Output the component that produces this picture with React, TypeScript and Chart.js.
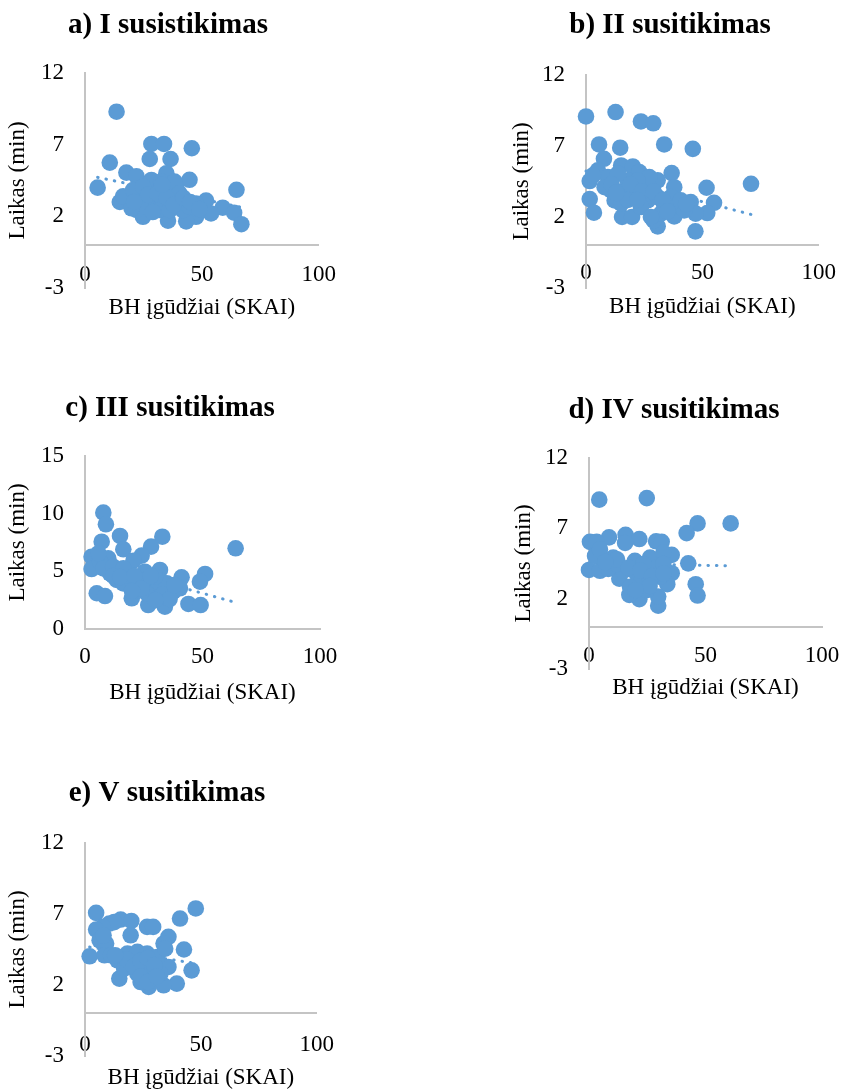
import React, { useEffect, useRef } from 'react';
import { Chart, registerables } from 'chart.js';

Chart.register(...registerables);

const SERIF = "'Liberation Serif', 'Times New Roman', serif";
const BLUE = '#5B9BD5';
const AXIS = '#C4C4C4';

// ---- Data ----
const xAxisTitle = 'BH įgūdžiai (SKAI)';
const yAxisTitle = 'Laikas (min)';
const xTicks = [0, 50, 100];
const yTicksA = [-3, 2, 7, 12];
const yTicksC = [0, 5, 10, 15];

const titles = ['a) I susistikimas', 'b) II susitikimas', 'c) III susitikimas', 'd) IV susitikimas', 'e) V susitikimas'];

const aX = [13.5, 28.4, 33.8, 45.7, 27.7, 36.6, 10.6, 5.4, 17.7, 22, 34.8, 44.7, 64.8, 14.9, 16.3, 51.8, 58.9, 63.8, 66.9, 53.9, 47.5, 43.3, 35.5, 24.8, 22, 26.2, 30.5, 34.8, 39.0, 23.4, 29.1, 33.3, 37.6, 40.4, 41.8, 26.2, 31.9, 36.2, 20.6, 28.4, 32.6, 38.3, 40.4, 44.7, 24.8, 19.9, 47.5, 27, 31, 35, 38, 42, 45, 49, 21, 33, 29];
const aY = [9.3, 7.05, 7.05, 6.75, 6.0, 6.0, 5.75, 4.0, 5.05, 4.8, 5.0, 4.55, 3.85, 3.0, 3.4, 3.1, 2.6, 2.25, 1.45, 2.2, 1.97, 1.65, 1.7, 1.97, 2.45, 3.84, 4.07, 3.84, 4.07, 3.37, 3.14, 3.14, 3.37, 2.91, 2.44, 2.67, 2.44, 2.44, 3.84, 4.54, 4.42, 4.42, 3.6, 2.67, 4.07, 2.56, 2.9, 3.5, 3.6, 3.3, 2.8, 3.3, 3.0, 2.5, 3.0, 4.2, 2.3];
const aTrendX = [5.4, 66.9];
const aTrendY = [4.72, 2.63];

const bX = [0, 12.7, 23.6, 28.9, 5.6, 14.7, 33.6, 45.9, 7.7, 36.8, 70.9, 51.8, 55, 1.6, 1.6, 3.4, 47, 30.8, 29.1, 15.5, 19.8, 37.9, 45, 52.1, 47.1, 15.1, 20.1, 22.9, 5.1, 30.8, 37.9, 9.4, 10.8, 12.3, 16.5, 17.9, 20.8, 25.1, 26.5, 23.6, 30.8, 33.6, 36.5, 39.3, 42.2, 32.2, 8, 13.7, 27.2, 22.2, 15.1, 27.9, 40.7, 3, 11, 19, 24, 29, 33, 35, 18, 13, 22, 43];
const bY = [9.08, 9.39, 8.73, 8.6, 7.11, 6.88, 7.11, 6.8, 6.1, 5.09, 4.34, 4.06, 3.0, 4.53, 3.26, 2.3, 0.99, 1.34, 1.76, 2.0, 2.0, 2.04, 3.05, 2.28, 2.24, 5.63, 5.56, 5.16, 5.28, 4.58, 4.1, 4.81, 3.87, 3.17, 3.87, 4.58, 3.64, 4.1, 3.17, 2.7, 3.4, 2.82, 3.4, 2.82, 2.46, 2.23, 4.1, 5.05, 4.81, 4.58, 2.94, 2.0, 3.17, 4.93, 4.3, 4.3, 3.8, 3.8, 3.2, 2.4, 3.2, 3.7, 3.2, 2.9];
const bTrendX = [0, 70.9];
const bTrendY = [5.23, 2.18];

const cX = [7.8, 8.9, 32.9, 14.9, 7.1, 16.3, 28.1, 64.1, 24.1, 20.6, 2.8, 2.8, 9.9, 10.6, 31.9, 41.1, 51.1, 48.9, 5.0, 8.5, 19.9, 26.9, 34, 44, 49.2, 37.6, 17.7, 25.5, 13.5, 19.1, 23.4, 27.7, 30.5, 34.8, 26.2, 22, 16.3, 6.4, 7.8, 12, 29.8, 40.4, 31.9, 16.3, 5.7, 12, 15, 21, 24, 28, 33, 36, 38, 20, 30];
const cY = [10.09, 9.08, 8.0, 8.07, 7.57, 6.91, 7.14, 7.0, 6.36, 5.92, 6.27, 5.2, 6.13, 4.83, 5.12, 4.48, 4.77, 4.1, 3.1, 2.86, 2.66, 2.08, 1.93, 2.17, 2.08, 3.24, 4.83, 4.97, 4.25, 3.82, 4.25, 3.82, 3.38, 3.96, 3.1, 3.38, 3.96, 5.84, 5.26, 5.4, 4.54, 3.53, 2.8, 5.26, 6.56, 4.6, 4.5, 4.6, 3.5, 4.6, 3.0, 2.6, 3.8, 3.3, 2.5];
const cTrendX = [2.8, 64.1];
const cTrendY = [5.78, 2.3];

const dX = [4.4, 24.8, 46.6, 60.8, 41.9, 8.6, 15.7, 21.6, 28.8, 31.2, 0.4, 3.3, 15.5, 42.6, 45.8, 46.6, 29.7, 21.6, 17.3, 13, 0, 4.7, 8.3, 2.6, 10.4, 19.7, 26.2, 35.5, 35.5, 33.6, 29.7, 24.8, 14.7, 20.5, 24.8, 29.1, 30.5, 21.9, 17.6, 26.2, 4.7, 31.9, 11.9, 23.3, 31.9, 12, 17, 22, 27, 32, 26, 20, 7];
const dY = [9.04, 9.15, 7.35, 7.35, 6.66, 6.36, 6.54, 6.24, 6.08, 6.04, 6.04, 6.04, 5.96, 4.51, 3.03, 2.22, 1.5, 1.96, 2.27, 3.42, 4.04, 3.98, 4.11, 5.04, 4.92, 4.69, 4.92, 5.11, 3.81, 3.03, 2.15, 2.61, 3.98, 3.77, 3.98, 4.23, 3.54, 3.07, 2.84, 3.31, 5.5, 5.27, 4.46, 4.46, 4.46, 4.8, 4.2, 4.0, 3.6, 3.8, 2.9, 2.6, 4.6];
const dTrendX = [0, 60.8];
const dTrendY = [4.55, 4.33];

const eX = [4.8, 47.8, 41, 15.4, 20, 10.5, 12.6, 7.7, 4.8, 26.8, 29.4, 19.7, 36, 33.9, 6.3, 9.1, 42.7, 2.0, 46, 14.8, 39.6, 33.9, 27.5, 24, 36, 8.4, 14, 18.3, 22.6, 26.8, 31.1, 19.7, 25.4, 29.7, 22.6, 28.2, 32.5, 16.9, 11.2, 34.6, 25.4, 18, 21, 24, 27, 30, 24, 27, 31, 13, 8];
const eY = [7.08, 7.39, 6.68, 6.61, 6.51, 6.33, 6.43, 6.09, 5.9, 6.09, 6.09, 5.5, 5.39, 4.92, 5.15, 4.92, 4.5, 4.02, 3.03, 2.45, 2.1, 1.98, 1.86, 2.21, 3.27, 4.09, 3.74, 4.21, 4.33, 4.21, 3.97, 3.51, 3.27, 3.03, 2.8, 2.56, 2.8, 3.15, 4.09, 4.56, 2.33, 3.8, 3.3, 3.7, 3.9, 3.4, 2.6, 2.2, 2.6, 4.1, 5.5];
const eTrendX = [2.0, 47.8];
const eTrendY = [4.67, 3.52];

// ---- Layout of each panel (page pixel coordinates) ----
type Spec = {
  title: string; xs: number[]; ys: number[]; tx: number[]; ty: number[]; yTicks: number[];
  left: number; width: number; areaLeft: number; areaRight: number; areaTop: number; areaBottom: number;
  titleCenter: number; xTitleCenter: number; tickLen: number;
};

const specs: Spec[] = [
  { title: titles[0], xs: aX, ys: aY, tx: aTrendX, ty: aTrendY, yTicks: yTicksA,
    left: 0, width: 336, areaLeft: 85, areaRight: 320, areaTop: 73, areaBottom: 288, titleCenter: 25, xTitleCenter: 308, tickLen: 16 },
  { title: titles[1], xs: bX, ys: bY, tx: bTrendX, ty: bTrendY, yTicks: yTicksA,
    left: 504, width: 332, areaLeft: 586, areaRight: 820, areaTop: 75, areaBottom: 288, titleCenter: 25, xTitleCenter: 307, tickLen: 14 },
  { title: titles[2], xs: cX, ys: cY, tx: cTrendX, ty: cTrendY, yTicks: yTicksC,
    left: 0, width: 340, areaLeft: 85, areaRight: 320, areaTop: 456, areaBottom: 629, titleCenter: 408, xTitleCenter: 693, tickLen: 14 },
  { title: titles[3], xs: dX, ys: dY, tx: dTrendX, ty: dTrendY, yTicks: yTicksA,
    left: 506, width: 336, areaLeft: 589, areaRight: 822, areaTop: 458, areaBottom: 669, titleCenter: 410, xTitleCenter: 688, tickLen: 15 },
  { title: titles[4], xs: eX, ys: eY, tx: eTrendX, ty: eTrendY, yTicks: yTicksA,
    left: 0, width: 334, areaLeft: 85, areaRight: 320, areaTop: 843, areaBottom: 1056, titleCenter: 793, xTitleCenter: 1078, tickLen: 18 },
];

const axisFont = { family: SERIF, size: 23 };
const TITLE_SIZE = 29;

function ScatterPanel({ spec }: { spec: Spec }) {
  const ref = useRef<HTMLCanvasElement>(null);
  const titleLine = TITLE_SIZE * 1.2;
  const canvasTop = Math.round(spec.titleCenter - 4 - titleLine / 2);
  const H = Math.round(spec.xTitleCenter + 17.8 - canvasTop);
  const W = spec.width;

  useEffect(() => {
    if (!ref.current) return;
    const titleBottomPad = spec.areaTop - canvasTop - 4 - titleLine;
    const leftW = spec.areaLeft - spec.left;
    const rightW = spec.left + W - spec.areaRight;
    const bottomH = canvasTop + H - spec.areaBottom;
    const yMin = spec.yTicks[0];
    const yMax = spec.yTicks[spec.yTicks.length - 1];

    const chart = new Chart(ref.current, {
      type: 'scatter',
      data: {
        datasets: [
          {
            type: 'scatter',
            data: spec.xs.map((x, i) => ({ x, y: spec.ys[i] })),
            backgroundColor: BLUE,
            borderColor: BLUE,
            borderWidth: 0,
            pointRadius: 8.3,
            pointHoverRadius: 8.3,
            clip: false,
            order: 1,
          } as any,
          {
            type: 'line',
            data: spec.tx.map((x, i) => ({ x, y: spec.ty[i] })),
            borderColor: BLUE,
            borderWidth: 3,
            borderDash: [0.5, 8],
            borderCapStyle: 'round',
            pointRadius: 0,
            showLine: true,
            fill: false,
            clip: false,
            order: 2,
          } as any,
        ],
      },
      options: {
        responsive: false,
        animation: false,
        devicePixelRatio: 1,
        layout: { padding: 0 },
        plugins: {
          legend: { display: false },
          tooltip: { enabled: false },
          title: {
            display: true,
            text: spec.title,
            color: '#000',
            font: { family: SERIF, size: TITLE_SIZE, weight: 'bold' },
            padding: { top: 4, bottom: titleBottomPad },
          },
        },
        scales: {
          x: {
            type: 'linear',
            position: { y: 0 } as any,
            min: 0,
            max: 100,
            afterBuildTicks: (s: any) => { s.ticks = xTicks.map((v) => ({ value: v })); },
            ticks: { font: axisFont, color: '#000', padding: 0, maxRotation: 0, autoSkip: false },
            grid: { display: true, drawOnChartArea: false, drawTicks: true, tickLength: spec.tickLen, tickColor: 'rgba(0,0,0,0)' },
            border: { display: true, color: AXIS, width: 2 },
          },
          xt: {
            type: 'linear',
            position: 'bottom',
            axis: 'x',
            min: 0,
            max: 100,
            afterFit: (s: any) => { s.height = bottomH; },
            ticks: { display: false },
            grid: { display: false, drawTicks: false },
            border: { display: false },
            title: { display: true, text: xAxisTitle, color: '#000', font: axisFont, padding: { top: 4, bottom: 4 } },
          },
          y: {
            type: 'linear',
            position: 'left',
            min: yMin,
            max: yMax,
            afterBuildTicks: (s: any) => { s.ticks = spec.yTicks.map((v) => ({ value: v })); },
            afterFit: (s: any) => { s.width = leftW; },
            ticks: { font: axisFont, color: '#000', padding: 21 },
            grid: { display: false, drawTicks: false },
            border: { display: true, color: AXIS, width: 2 },
            title: { display: true, text: yAxisTitle, color: '#000', font: axisFont, padding: { top: 4, bottom: 4 } },
          },
          yr: {
            type: 'linear',
            position: 'right',
            axis: 'y',
            afterFit: (s: any) => { s.width = rightW; },
            ticks: { display: false },
            grid: { display: false, drawTicks: false },
            border: { display: false },
          },
        },
      } as any,
    });
    return () => chart.destroy();
  }, []);

  return (
    <canvas
      ref={ref}
      width={W}
      height={H}
      style={{ position: 'absolute', left: spec.left, top: canvasTop, width: W, height: H }}
    />
  );
}

export default function App() {
  return (
    <div style={{ position: 'absolute', left: 0, top: 0, width: 843, height: 1089, overflow: 'hidden', background: '#fff' }}>
      {specs.map((s, i) => (
        <ScatterPanel key={i} spec={s} />
      ))}
    </div>
  );
}
